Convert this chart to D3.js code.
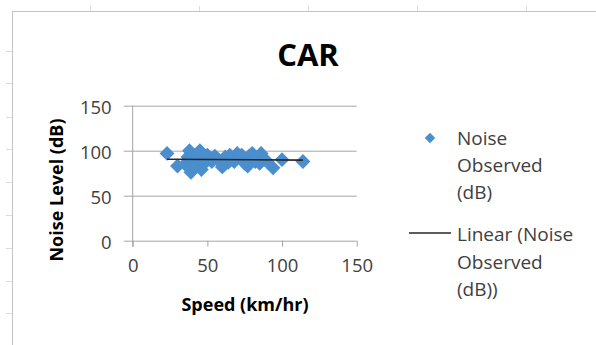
<!DOCTYPE html>
<html>
<head>
<meta charset="utf-8">
<script src="https://cdn.jsdelivr.net/npm/d3@7"></script>
<style>
  html, body { margin: 0; padding: 0; background: #fff; }
  svg { display: block; font-family: "Open Sans", sans-serif; }
</style>
</head>
<body>
<svg id="chart" width="596" height="345"></svg>
<script>
    var speed = [23, 30, 35, 37, 38, 39, 40, 41, 42, 43, 44, 45, 46, 47, 48, 50, 52, 53, 55, 57,
                 60, 62, 64, 65, 67, 68, 70, 72, 73, 75, 77, 78, 80, 82, 83, 85, 86, 88, 90, 94, 100, 114];
    var noise = [97, 83, 85, 93, 100, 76, 88, 95, 82, 91, 97, 100, 79, 93, 86, 95, 92, 88, 94, 90,
                 82, 93, 87, 95, 92, 88, 97, 92, 95, 86, 83, 94, 97, 88, 92, 86, 97, 90, 88, 81, 90, 88];
    var xTicks = [0, 50, 100, 150];
    var yTicks = [0, 50, 100, 150];
    var legendPoints = ["Noise", "Observed", "(dB)"];
    var legendTrend = ["Linear (Noise", "Observed", "(dB))"];

    var svg = d3.select("#chart");

    var data = speed.map(function (s, i) { return {x: s, y: noise[i]}; });

    // spreadsheet cell stubs around the chart frame
    var stubX = [90, 199, 308, 417, 526];
    var stubY = [51, 83, 117, 149, 182, 215, 248, 281, 313];
    svg.selectAll(".stubx").data(stubX).enter().append("line")
        .attr("x1", function (d) { return d + 0.5; }).attr("x2", function (d) { return d + 0.5; })
        .attr("y1", 6).attr("y2", 11)
        .attr("stroke", "#dcdcdc");
    svg.selectAll(".stuby").data(stubY).enter().append("line")
        .attr("y1", function (d) { return d + 0.5; }).attr("y2", function (d) { return d + 0.5; })
        .attr("x1", 6).attr("x2", 12)
        .attr("stroke", "#dcdcdc");

    // chart frame (runs off the right and bottom of the picture)
    svg.append("rect")
        .attr("x", 12.5).attr("y", 11.5)
        .attr("width", 700).attr("height", 500)
        .attr("fill", "#fff")
        .attr("stroke", "#c4c4c4");

    var x = d3.scaleLinear().domain([0, 150]).range([132.7, 356.7]);
    var y = d3.scaleLinear().domain([0, 150]).range([240.7, 105.7]);

    // gridlines + y axis
    var yAxis = svg.append("g")
        .attr("transform", "translate(" + x(0) + ",0)")
        .call(d3.axisLeft(y).tickValues(yTicks).tickSize(-(x(150) - x(0))).tickPadding(21));
    yAxis.select(".domain").remove();
    yAxis.selectAll(".tick line")
        .attr("x1", -9)
        .attr("stroke", "#a6a6a6");
    yAxis.selectAll(".tick text")
        .attr("font-family", "Open Sans")
        .attr("font-size", 18.5)
        .attr("fill", "#404040")
        .attr("dy", "0.4em");

    // x axis
    var xAxis = svg.append("g")
        .attr("transform", "translate(0," + y(0) + ")")
        .call(d3.axisBottom(x).tickValues(xTicks).tickSize(6).tickSizeOuter(0).tickPadding(12));
    xAxis.select(".domain").remove();
    xAxis.selectAll(".tick line").attr("stroke", "#a6a6a6");
    xAxis.selectAll(".tick text")
        .attr("font-family", "Open Sans")
        .attr("font-size", 18.5)
        .attr("fill", "#404040");

    svg.append("line")
        .attr("x1", x(0)).attr("x2", x(0))
        .attr("y1", y(150)).attr("y2", y(0) + 6)
        .attr("stroke", "#a6a6a6");

    // points
    var diamond = d3.symbol().type(d3.symbolDiamond2).size(140);
    svg.append("g").selectAll("path")
        .data(data)
        .enter().append("path")
        .attr("d", diamond)
        .attr("transform", function (d) { return "translate(" + x(d.x) + "," + y(d.y) + ")"; })
        .attr("fill", "#4a8ecd");

    // linear trendline (least squares)
    var mx = d3.mean(data, function (d) { return d.x; });
    var my = d3.mean(data, function (d) { return d.y; });
    var sxy = d3.sum(data, function (d) { return (d.x - mx) * (d.y - my); });
    var sxx = d3.sum(data, function (d) { return (d.x - mx) * (d.x - mx); });
    var slope = sxy / sxx, icpt = my - slope * mx;
    var ext = d3.extent(speed);
    var line = d3.line()
        .x(function (d) { return x(d); })
        .y(function (d) { return y(icpt + slope * d); });
    svg.append("path")
        .datum(ext)
        .attr("d", line)
        .attr("fill", "none")
        .attr("stroke", "#262626")
        .attr("stroke-width", 1.6);

    // titles
    svg.append("text")
        .attr("x", 308).attr("y", 66)
        .attr("text-anchor", "middle")
        .attr("font-size", 31).attr("font-weight", "bold")
        .attr("fill", "#000")
        .text("CAR");

    svg.append("text")
        .attr("x", 245).attr("y", 311)
        .attr("text-anchor", "middle")
        .attr("font-size", 18).attr("font-weight", "bold")
        .attr("fill", "#000")
        .text("Speed (km/hr)");

    svg.append("text")
        .attr("transform", "translate(63,190) rotate(-90)")
        .attr("text-anchor", "middle")
        .attr("font-size", 18).attr("font-weight", "bold")
        .attr("fill", "#000")
        .text("Noise Level (dB)");

    // legend
    var leg = svg.append("g");
    leg.append("path")
        .attr("d", d3.symbol().type(d3.symbolDiamond2).size(70))
        .attr("transform", "translate(430,138)")
        .attr("fill", "#4a8ecd");
    leg.selectAll(".lp").data(legendPoints).enter().append("text")
        .attr("x", 457).attr("y", function (d, i) { return 145 + i * 27; })
        .attr("font-size", 19).attr("fill", "#404040")
        .text(function (d) { return d; });
    leg.append("line")
        .attr("x1", 409).attr("x2", 451)
        .attr("y1", 233).attr("y2", 233)
        .attr("stroke", "#262626").attr("stroke-width", 1.6);
    leg.selectAll(".lt").data(legendTrend).enter().append("text")
        .attr("x", 457).attr("y", function (d, i) { return 241 + i * 27.5; })
        .attr("font-size", 19).attr("fill", "#404040")
        .text(function (d) { return d; });
</script>
</body>
</html>
